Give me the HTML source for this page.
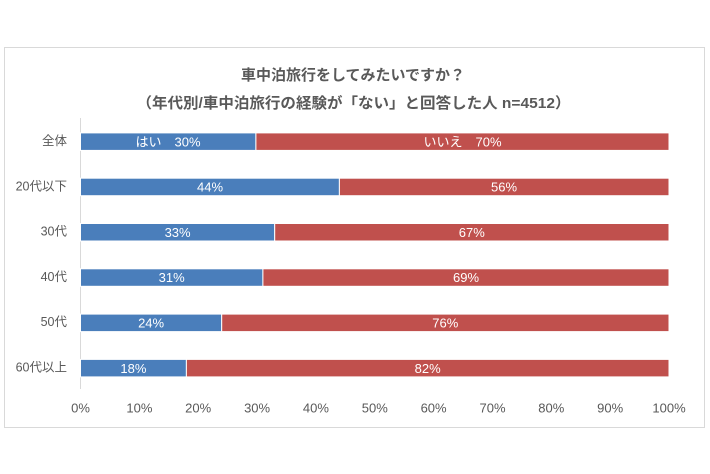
<!DOCTYPE html>
<html><head><meta charset="utf-8"><style>
html,body{margin:0;padding:0;background:#fff;}
svg{display:block;}
text{font-family:"Liberation Sans","Noto Sans CJK JP",sans-serif;}
</style></head><body>
<svg width="710" height="474" viewBox="0 0 710 474" xmlns="http://www.w3.org/2000/svg">
<rect x="0" y="0" width="710" height="474" fill="#fff"/>
<rect x="4.5" y="47.5" width="700" height="380" fill="#fff" stroke="#d9d9d9" stroke-width="1"/>
<g fill="#595959" font-weight="bold" font-size="15" text-anchor="middle">
<text x="353" y="80">車中泊旅行をしてみたいですか？</text>
<text x="353.5" y="108" textLength="434" lengthAdjust="spacingAndGlyphs">（年代別/車中泊旅行の経験が「ない」と回答した人 n=4512）</text>
</g>
<line x1="80.5" y1="118" x2="80.5" y2="389" stroke="#d9d9d9" stroke-width="1"/>
<g stroke="#fff" stroke-width="1">
<rect x="80.5" y="132.9" width="175.4" height="17.5" fill="#4a7ebb"/>
<rect x="255.9" y="132.9" width="413.1" height="17.5" fill="#c0504d"/>
<rect x="80.5" y="178.2" width="258.9" height="17.5" fill="#4a7ebb"/>
<rect x="339.4" y="178.2" width="329.6" height="17.5" fill="#c0504d"/>
<rect x="80.5" y="223.5" width="194.2" height="17.5" fill="#4a7ebb"/>
<rect x="274.7" y="223.5" width="394.3" height="17.5" fill="#c0504d"/>
<rect x="80.5" y="268.8" width="182.4" height="17.5" fill="#4a7ebb"/>
<rect x="262.9" y="268.8" width="406.1" height="17.5" fill="#c0504d"/>
<rect x="80.5" y="314.1" width="141.2" height="17.5" fill="#4a7ebb"/>
<rect x="221.7" y="314.1" width="447.3" height="17.5" fill="#c0504d"/>
<rect x="80.5" y="359.4" width="105.9" height="17.5" fill="#4a7ebb"/>
<rect x="186.4" y="359.4" width="482.6" height="17.5" fill="#c0504d"/>
</g>
<g fill="#fff" font-size="13" text-anchor="middle">
<text x="168" y="146.3">はい　30%</text>
<text x="462.5" y="146.3">いいえ　70%</text>
<text x="210" y="191.6">44%</text>
<text x="504" y="191.6">56%</text>
<text x="177.6" y="236.9">33%</text>
<text x="471.8" y="236.9">67%</text>
<text x="171.7" y="282.2">31%</text>
<text x="466" y="282.2">69%</text>
<text x="151.1" y="327.5">24%</text>
<text x="445.3" y="327.5">76%</text>
<text x="133.4" y="372.8">18%</text>
<text x="427.7" y="372.8">82%</text>
</g>
<g fill="#595959" font-size="12.5" text-anchor="end">
<text x="67" y="145">全体</text>
<text x="67" y="190.3">20代以下</text>
<text x="67" y="235.6">30代</text>
<text x="67" y="280.9">40代</text>
<text x="67" y="326.2">50代</text>
<text x="67" y="371.5">60代以上</text>
</g>
<g fill="#595959" font-size="13" text-anchor="middle">
<text x="80.5" y="412.5">0%</text>
<text x="139.4" y="412.5">10%</text>
<text x="198.2" y="412.5">20%</text>
<text x="257.1" y="412.5">30%</text>
<text x="315.9" y="412.5">40%</text>
<text x="374.8" y="412.5">50%</text>
<text x="433.6" y="412.5">60%</text>
<text x="492.5" y="412.5">70%</text>
<text x="551.3" y="412.5">80%</text>
<text x="610.2" y="412.5">90%</text>
<text x="669" y="412.5">100%</text>
</g>
</svg>
</body></html>
